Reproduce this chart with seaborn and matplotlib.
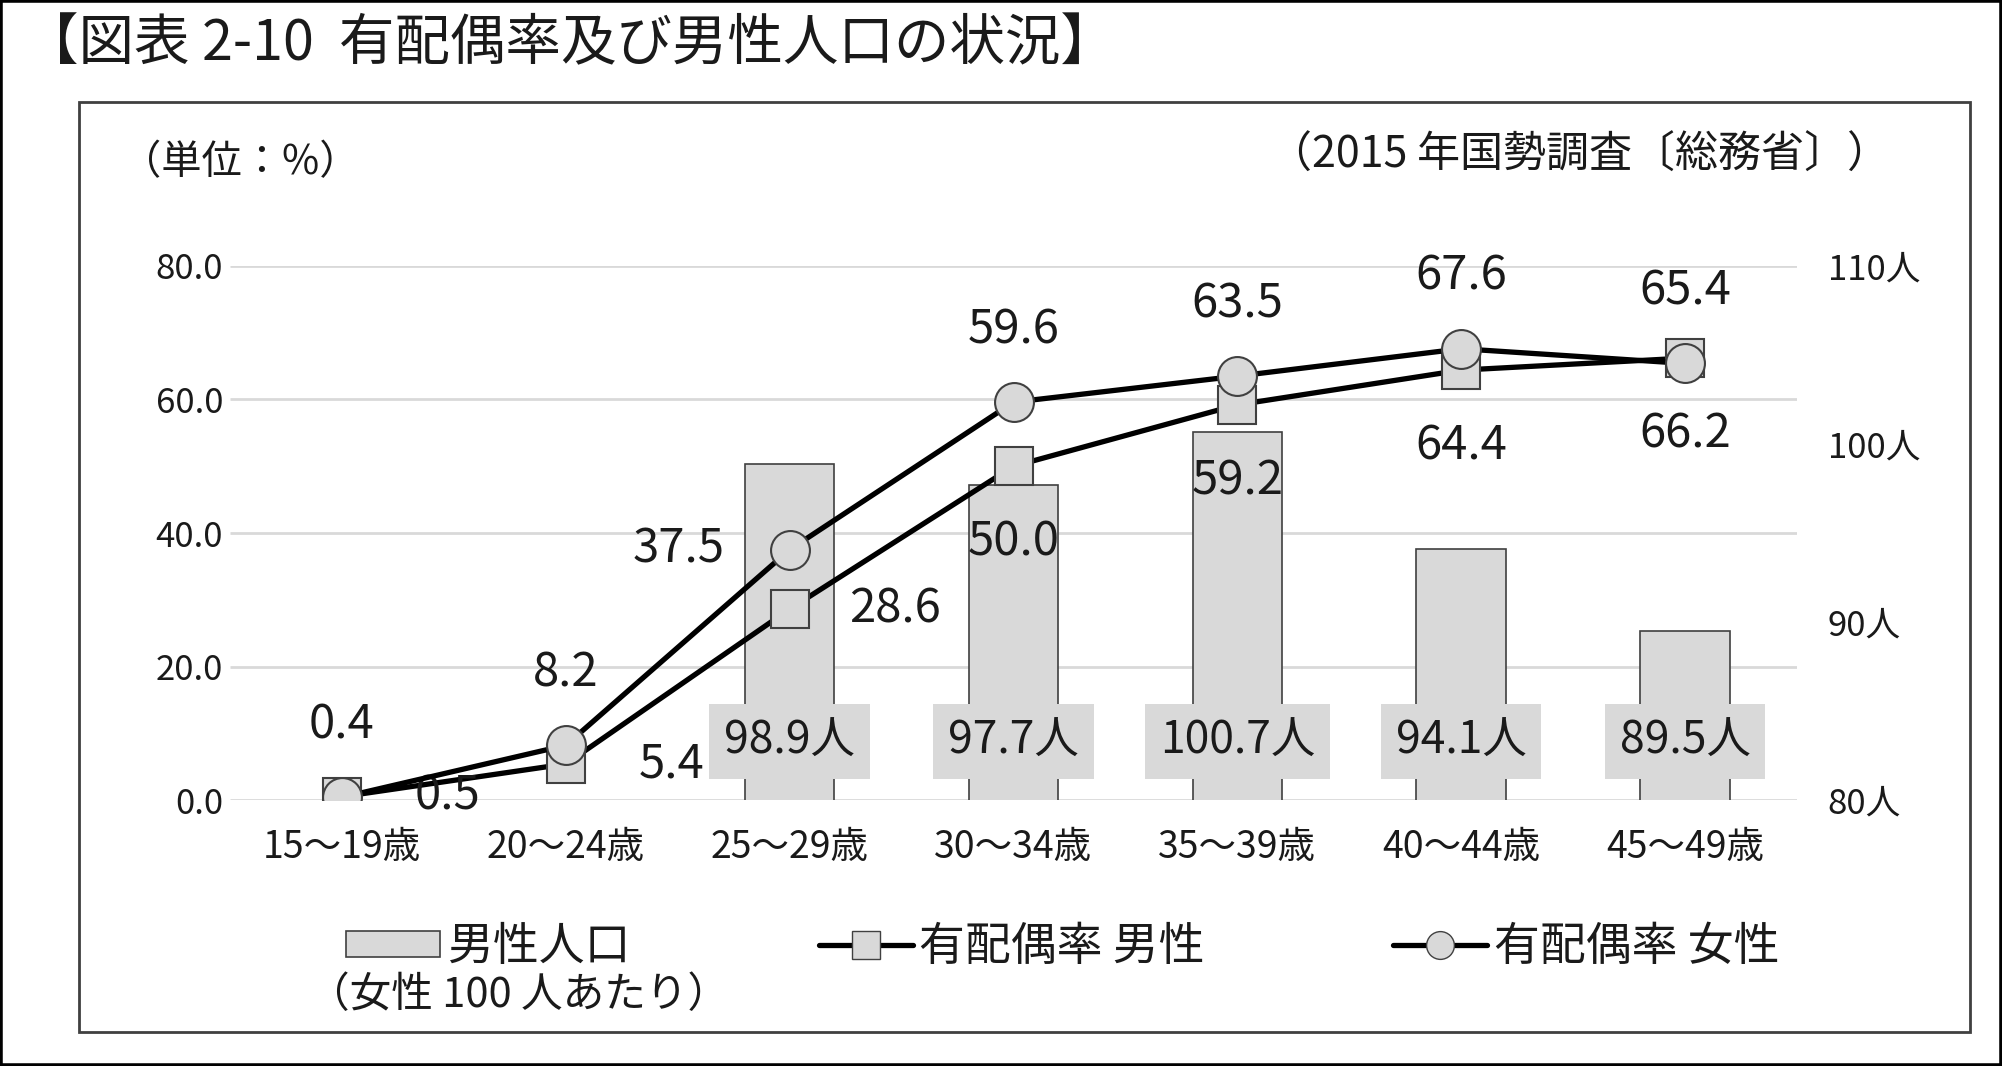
import matplotlib
matplotlib.use('Agg')
import matplotlib.pyplot as plt
import seaborn as sns
import numpy as np
import pandas as pd
from matplotlib.patches import Patch, Rectangle
from matplotlib.lines import Line2D

# data
ages = ['15～19歳', '20～24歳', '25～29歳', '30～34歳', '35～39歳', '40～44歳', '45～49歳']
female_rate = [0.4, 8.2, 37.5, 59.6, 63.5, 67.6, 65.4]
male_rate = [0.5, 5.4, 28.6, 50.0, 59.2, 64.4, 66.2]
pop_ages = ['25～29歳', '30～34歳', '35～39歳', '40～44歳', '45～49歳']
male_pop = [98.9, 97.7, 100.7, 94.1, 89.5]   # 女性100人あたりの男性人口

# label placement (style, not data)
female_pos = ['up', 'up', 'left', 'up', 'up', 'up', 'up']
male_pos = ['right', 'right', 'right', 'down', 'down', 'down', 'down']
offsets = {'up': (0, 52), 'down': (0, -55), 'right': (76, 0), 'left': (-80, 0)}

sns.set_theme(style='white')
plt.rcParams['font.family'] = ['Noto Sans CJK JP', 'DejaVu Sans']

GRAY = '#d9d9d9'
EDGE = '#404040'
TXT = '#1a1a1a'

fig = plt.figure(figsize=(20.02, 10.66), dpi=100)
fig.patch.set_facecolor('white')
ax = fig.add_axes([0.1149, 0.2495, 0.7827, 0.501])
ax2 = ax.twinx()

# bars: male population per 100 women (right scale)
df_pop = pd.DataFrame({'age': pop_ages, 'pop': male_pop})
sns.barplot(data=df_pop, x='age', y='pop', order=ages, color=GRAY, saturation=1,
            edgecolor=EDGE, linewidth=1.2, width=0.4, ax=ax, zorder=2)
ax.set_ylim(80, 110)
ax.set_xlim(-0.5, len(ages) - 0.5)
ax.grid(False)
ax.hlines(np.linspace(80, 110, 5), -0.5, len(ages) - 0.5, color=GRAY,
          linewidth=2, zorder=1)
ax.yaxis.tick_right()
ax.set_yticks([80, 90, 100, 110])
ax.set_yticklabels([f'{v}人' for v in [80, 90, 100, 110]])
ax.tick_params(axis='y', which='both', length=0, pad=22, labelsize=25,
               colors=TXT, labelleft=False, labelright=True)
ax.tick_params(axis='x', length=0, pad=20, labelsize=27, colors=TXT)
ax.set_xlabel('')
ax.set_ylabel('')
for s in ax.spines.values():
    s.set_visible(False)

for name, v in zip(pop_ages, male_pop):
    ax.text(ages.index(name), 83.3, f'{v}人', ha='center', va='center',
            fontsize=32, color=TXT, zorder=3,
            bbox=dict(boxstyle='square,pad=0.33', facecolor=GRAY, edgecolor='none'))

# lines: marriage rates (left scale)
xpos = np.arange(len(ages))
sns.lineplot(x=xpos, y=male_rate, color='black', linewidth=3.8, marker='s',
             markersize=27, markerfacecolor=GRAY, markeredgecolor=EDGE,
             markeredgewidth=1.5, ax=ax2, zorder=3)
sns.lineplot(x=xpos, y=female_rate, color='black', linewidth=3.8, marker='o',
             markersize=28, markerfacecolor=GRAY, markeredgecolor=EDGE,
             markeredgewidth=1.5, ax=ax2, zorder=4)
ax2.set_ylim(0, 80)
ax2.set_xlim(-0.5, len(ages) - 0.5)
ax2.yaxis.tick_left()
ax2.set_yticks([0, 20, 40, 60, 80])
ax2.set_yticklabels([f'{v:.1f}' for v in [0, 20, 40, 60, 80]])
ax2.tick_params(axis='y', length=0, pad=5, labelsize=25, colors=TXT,
                labelleft=True, labelright=False)
ax2.grid(False)
for s in ax2.spines.values():
    s.set_visible(False)

for x, v, p in zip(xpos, female_rate, female_pos):
    ax2.annotate(f'{v}', (x, v), xytext=offsets[p], textcoords='offset points',
                 ha='center', va='center', fontsize=34, color=TXT)
for x, v, p in zip(xpos, male_rate, male_pos):
    ax2.annotate(f'{v}', (x, v), xytext=offsets[p], textcoords='offset points',
                 ha='center', va='center', fontsize=34, color=TXT)

# legend
handles = [
    Patch(facecolor=GRAY, edgecolor=EDGE, linewidth=1.2),
    Line2D([], [], color='black', linewidth=3.8, marker='s', markersize=20,
           markerfacecolor=GRAY, markeredgecolor=EDGE),
    Line2D([], [], color='black', linewidth=3.8, marker='o', markersize=20,
           markerfacecolor=GRAY, markeredgecolor=EDGE),
]
fig.legend(handles, ['男性人口', '有配偶率 男性', '有配偶率 女性'], loc='center left',
           bbox_to_anchor=(0.173, 0.112), ncol=3, frameon=False, fontsize=33,
           handlelength=2.05, handleheight=0.5, handletextpad=0.15,
           columnspacing=4.1, borderpad=0, borderaxespad=0, labelcolor=TXT)
fig.text(0.154, 0.066, '（女性 100 人あたり）', fontsize=30, color=TXT,
         ha='left', va='center')

# texts
fig.text(0.0115, 0.958, '【図表 2-10  有配偶率及び男性人口の状況】', fontsize=40,
         color=TXT, ha='left', va='center')
fig.text(0.0605, 0.847, '（単位：%）', fontsize=29, color=TXT, ha='left', va='center')
fig.text(0.944, 0.854, '（2015 年国勢調査〔総務省〕）', fontsize=31, color=TXT,
         ha='right', va='center')

# frames
fig.patches.append(Rectangle((0.0395, 0.0319), 0.9445, 0.872, transform=fig.transFigure,
                             fill=False, edgecolor=EDGE, linewidth=2))
fig.patches.append(Rectangle((0, 0), 1, 1, transform=fig.transFigure,
                             fill=False, edgecolor='black', linewidth=4))

fig.savefig('out.png', dpi=100)
